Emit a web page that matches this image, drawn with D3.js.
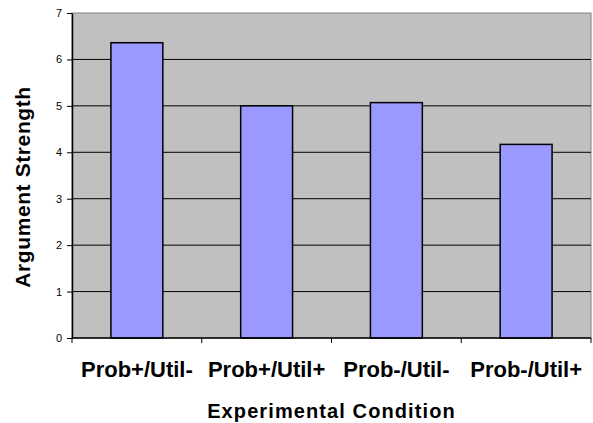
<!DOCTYPE html>
<html>
  <head>
    <meta charset="UTF-8" />
    <script src="https://d3js.org/d3.v7.min.js"></script>
    <style>
      body { margin: 0; background: #fff; }
      text { font-family: "Liberation Sans", Arial, sans-serif; }
    </style>
  </head>
  <body>
    <div id="chart"></div>
    <script>
      // dados
      var conditions = ["Prob+/Util-", "Prob+/Util+", "Prob-/Util-", "Prob-/Util+"];
      var strength = [6.36, 5.0, 5.07, 4.17];
      var yTicks = [0, 1, 2, 3, 4, 5, 6, 7];

      var margin = { top: 13, right: 2, bottom: 85, left: 72 },
        width = 593 - margin.left - margin.right,
        height = 423 - margin.top - margin.bottom;

      var svg = d3
        .select("#chart")
        .append("svg")
        .attr("width", 593)
        .attr("height", 423);

      var g = svg
        .append("g")
        .attr("transform", "translate(" + margin.left + "," + margin.top + ")");

      var x = d3.scaleBand().domain(conditions).range([0, width]).paddingInner(0.6).paddingOuter(0.3);
      var band = d3.scaleBand().domain(conditions).range([0, width]);
      var y = d3.scaleLinear().domain([0, 7]).range([height, 0]);

      // fundo cinza da área do gráfico
      g.append("rect")
        .attr("width", width)
        .attr("height", height)
        .attr("fill", "#c0c0c0")
        .attr("stroke", "#808080")
        .attr("stroke-width", 1);

      // linhas de grade
      g.selectAll(".grid")
        .data(yTicks.slice(1, -1))
        .enter()
        .append("line")
        .attr("x1", 0)
        .attr("x2", width)
        .attr("y1", (d) => y(d))
        .attr("y2", (d) => y(d))
        .attr("stroke", "#000")
        .attr("stroke-width", 1);

      // barras
      g.selectAll(".bar")
        .data(strength)
        .enter()
        .append("rect")
        .attr("class", "bar")
        .attr("x", (d, i) => x(conditions[i]))
        .attr("width", x.bandwidth())
        .attr("y", (d) => y(d))
        .attr("height", (d) => height - y(d))
        .attr("fill", "#9999ff")
        .attr("stroke", "#000")
        .attr("stroke-width", 1.5);

      // eixo y
      var yAxis = g
        .append("g")
        .call(d3.axisLeft(y).tickValues(yTicks).tickFormat(d3.format("d")).tickSize(5).tickSizeOuter(0));
      yAxis.select(".domain").attr("stroke", "#000").attr("stroke-width", 1.5);
      yAxis.selectAll("text").attr("font-size", "11px").attr("fill", "#000").attr("dx", "-2");

      // eixo x: marcas nas divisas entre categorias
      var xAxis = g.append("g").attr("transform", "translate(0," + height + ")");
      xAxis
        .append("line")
        .attr("x1", 0)
        .attr("x2", width)
        .attr("stroke", "#000")
        .attr("stroke-width", 1.5);
      var bounds = conditions.map((c) => band(c)).concat([width]);
      xAxis
        .selectAll(".xtick")
        .data(bounds)
        .enter()
        .append("line")
        .attr("x1", (d) => d)
        .attr("x2", (d) => d)
        .attr("y1", 0)
        .attr("y2", 5)
        .attr("stroke", "#000");
      xAxis
        .selectAll(".xlabel")
        .data(conditions)
        .enter()
        .append("text")
        .attr("x", (d) => band(d) + band.bandwidth() / 2)
        .attr("y", 39)
        .attr("text-anchor", "middle")
        .attr("font-size", "22px")
        .attr("font-weight", "bold")
        .text((d) => d);

      // títulos dos eixos
      svg
        .append("text")
        .attr("x", margin.left + width / 2)
        .attr("y", 418)
        .attr("text-anchor", "middle")
        .attr("font-size", "20px")
        .attr("font-weight", "bold")
        .attr("letter-spacing", "1.1px")
        .text("Experimental Condition");

      svg
        .append("text")
        .attr("transform", "translate(30,187) rotate(-90)")
        .attr("text-anchor", "middle")
        .attr("font-size", "21px")
        .attr("font-weight", "bold")
        .attr("letter-spacing", "0.6px")
        .text("Argument Strength");
    </script>
  </body>
</html>
